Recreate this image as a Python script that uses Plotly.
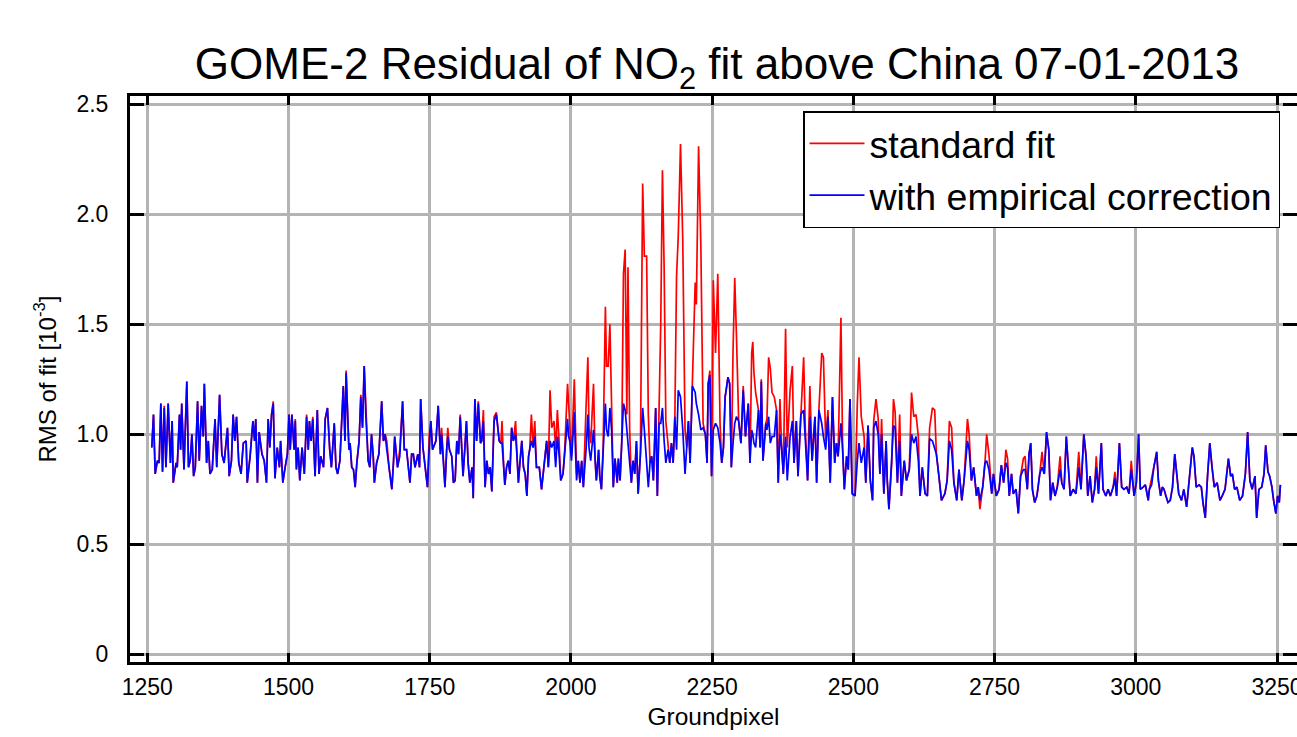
import plotly.graph_objects as go

# Ground pixel positions (turning points)
groundpixel = [
    1258, 1261, 1264, 1268, 1271, 1274, 1277, 1280, 1283, 1287, 1291, 1294, 1296, 1301, 1303, 1307, 1309, 1311, 1315, 1320,
    1323, 1326, 1329, 1332, 1335, 1339, 1342, 1346, 1349, 1351, 1355, 1358, 1361, 1365, 1370, 1373, 1378, 1382, 1386, 1392,
    1395, 1399, 1402, 1405, 1408, 1412, 1416, 1420, 1425, 1427, 1432, 1437, 1440, 1442, 1445, 1448, 1453, 1457, 1461, 1464,
    1467, 1470, 1473, 1476, 1480, 1484, 1486, 1490, 1494, 1498, 1501, 1503, 1506, 1510, 1512, 1514, 1517, 1520, 1524, 1528,
    1532, 1535, 1537, 1540, 1543, 1547, 1551, 1554, 1557, 1562, 1565, 1569, 1573, 1576, 1581, 1584, 1587, 1591, 1597, 1600,
    1602, 1605, 1607, 1609, 1612, 1615, 1618, 1621, 1625, 1628, 1631, 1634, 1637, 1641, 1644, 1647, 1650, 1652, 1656, 1660,
    1665, 1668, 1671, 1674, 1678, 1683, 1686, 1688, 1693, 1697, 1702, 1705, 1709, 1712, 1715, 1718, 1721, 1724, 1729, 1732,
    1734, 1738, 1742, 1746, 1749, 1752, 1755, 1761, 1765, 1769, 1771, 1774, 1777, 1780, 1782, 1785, 1789, 1792, 1795, 1798,
    1801, 1804, 1807, 1809, 1812, 1815, 1818, 1821, 1825, 1827, 1830, 1833, 1836, 1840, 1842, 1845, 1848, 1851, 1854, 1857,
    1860, 1864, 1868, 1873, 1876, 1878, 1881, 1883, 1886, 1889, 1892, 1895, 1898, 1902, 1905, 1907, 1910, 1913, 1916, 1919,
    1922, 1925, 1927, 1930, 1933, 1936, 1939, 1944, 1948, 1951, 1953, 1957, 1960, 1963, 1966, 1970, 1973, 1976, 1979, 1982,
    1986, 1989, 1994, 1996, 1998, 2001, 2006, 2008, 2010, 2013, 2016, 2019, 2022, 2027, 2030, 2032, 2035, 2040, 2043, 2045,
    2049, 2051, 2054, 2057, 2061, 2063, 2066, 2069, 2072, 2075, 2078, 2082, 2084, 2087, 2090, 2093, 2096, 2099, 2101, 2104,
    2107, 2110, 2113, 2116, 2119, 2123, 2127, 2130, 2134, 2137, 2140, 2143, 2146, 2150, 2153, 2156, 2159, 2162, 2165, 2168,
    2172, 2175, 2178, 2181, 2184, 2187, 2190, 2194, 2198, 2202, 2205, 2208, 2211, 2215, 2220, 2222, 2226, 2230, 2234, 2238,
    2241, 2243, 2246, 2249, 2252, 2256, 2260, 2264, 2267, 2270, 2273, 2276, 2278, 2281, 2284, 2287, 2290, 2293, 2297, 2301,
    2305, 2309, 2314, 2317, 2320, 2322, 2324, 2327, 2332, 2335, 2337, 2340, 2345, 2347, 2350, 2353, 2356, 2360, 2364, 2367,
    2370, 2373, 2376, 2380, 2383, 2388, 2392, 2395, 2399, 2402, 2407, 2412, 2415, 2419, 2423, 2427, 2432, 2435, 2439, 2444,
    2447, 2451, 2455, 2459, 2463, 2467, 2470, 2473, 2478, 2481, 2484, 2488, 2491, 2494, 2498, 2503, 2507, 2510, 2514, 2519,
    2522, 2526, 2530, 2534, 2536, 2540, 2544, 2547, 2550, 2554, 2558, 2560, 2563, 2568, 2571, 2574, 2578, 2582, 2585, 2590,
    2594, 2599, 2603, 2607, 2611, 2615, 2618, 2622, 2627, 2631, 2635, 2640, 2644, 2647, 2651, 2656, 2662, 2666, 2670, 2674,
    2678, 2683, 2687, 2692, 2696, 2702, 2705, 2709, 2713, 2718, 2721, 2724, 2729, 2733, 2736, 2740, 2745, 2748, 2753, 2758,
    2762, 2766, 2770, 2773, 2776, 2780, 2783, 2788, 2792, 2796, 2801, 2804, 2808, 2811, 2814, 2817, 2821, 2825, 2830, 2834,
    2838, 2842, 2846, 2849, 2853, 2857, 2861, 2866, 2869, 2873, 2877, 2881, 2884, 2889, 2894, 2899, 2903, 2908, 2912, 2915,
    2919, 2923, 2927, 2930, 2934, 2939, 2942, 2947, 2951, 2955, 2960, 2963, 2966, 2971, 2975, 2979, 2984, 2988, 2992, 2997,
    3001, 3005, 3008, 3013, 3017, 3022, 3024, 3028, 3032, 3037, 3040, 3044, 3047, 3050, 3053, 3057, 3061, 3065, 3069, 3072,
    3076, 3081, 3085, 3090, 3096, 3100, 3103, 3107, 3112, 3116, 3119, 3123, 3127, 3131, 3135, 3139, 3144, 3149, 3153, 3158,
    3164, 3168, 3171, 3175, 3179, 3184, 3189, 3194, 3198, 3202, 3206, 3211, 3214, 3218, 3223, 3227, 3230, 3234, 3237, 3241,
    3244, 3248, 3251, 3254, 3256,
]

# RMS of fit [10^-3], fit with empirical correction (blue)
rms_corrected = [
    0.94, 1.09, 0.82, 0.88, 0.87, 1.14, 0.83, 1.12, 0.85, 1.14, 0.87, 1.06, 0.78, 0.87, 0.85, 1.09, 0.93, 1.14, 0.84, 1.24,
    0.85, 0.88, 1.00, 0.81, 0.85, 1.15, 0.88, 1.13, 0.99, 1.23, 0.87, 0.97, 0.82, 0.84, 1.07, 0.85, 1.18, 0.91, 0.87, 1.03,
    0.81, 0.88, 1.09, 0.97, 1.08, 0.87, 0.82, 0.96, 0.97, 0.78, 0.90, 1.06, 0.97, 1.07, 0.78, 1.01, 0.91, 0.88, 0.78, 1.07,
    0.94, 1.09, 1.14, 0.80, 0.94, 0.85, 0.97, 0.78, 0.85, 0.91, 1.09, 0.93, 1.09, 0.93, 1.06, 0.84, 0.94, 0.79, 0.94, 0.82,
    1.08, 0.93, 1.06, 0.97, 1.07, 0.81, 1.11, 0.82, 0.90, 0.85, 1.07, 1.12, 0.93, 0.85, 1.05, 0.85, 0.82, 0.88, 1.22, 0.97,
    1.28, 1.05, 0.93, 0.96, 0.85, 0.84, 0.76, 0.87, 0.97, 1.17, 1.03, 1.31, 1.08, 0.88, 0.85, 1.00, 0.90, 0.78, 0.87, 0.91,
    1.15, 0.97, 1.00, 0.93, 0.85, 0.75, 0.88, 0.99, 0.85, 0.90, 1.15, 0.93, 0.93, 0.84, 0.78, 0.91, 0.91, 0.85, 0.91, 0.85,
    1.16, 0.94, 0.85, 0.76, 0.93, 1.06, 0.93, 0.97, 1.13, 0.91, 1.00, 0.90, 0.76, 0.93, 0.99, 0.93, 0.90, 0.78, 0.79, 0.97,
    0.91, 1.08, 0.93, 0.81, 0.93, 1.06, 0.87, 0.78, 0.85, 0.71, 1.16, 0.97, 1.14, 0.96, 0.97, 1.06, 0.76, 0.88, 0.82, 0.85,
    0.74, 1.06, 1.09, 0.97, 0.96, 0.96, 0.85, 0.77, 0.85, 0.88, 0.82, 1.03, 0.97, 1.00, 0.88, 0.78, 0.88, 0.97, 0.85, 0.82,
    0.72, 0.90, 0.93, 0.97, 0.94, 0.99, 0.85, 0.85, 0.75, 0.82, 0.87, 0.97, 0.85, 0.97, 0.94, 0.97, 0.85, 0.99, 0.91, 0.79,
    0.82, 0.93, 1.07, 0.99, 0.97, 0.88, 1.10, 0.93, 0.79, 0.88, 0.78, 0.88, 0.76, 0.94, 1.09, 0.94, 0.88, 1.02, 0.87, 0.79,
    0.93, 0.81, 0.75, 0.94, 1.14, 1.02, 0.99, 1.12, 1.02, 0.76, 0.89, 0.78, 0.89, 0.79, 0.96, 1.14, 1.11, 1.02, 0.94, 0.88,
    0.78, 0.88, 0.82, 0.97, 0.73, 0.91, 1.12, 1.02, 0.84, 0.76, 0.87, 0.90, 0.79, 1.12, 0.72, 1.05, 1.05, 1.12, 0.97, 0.87,
    0.93, 0.87, 0.96, 0.87, 1.08, 0.93, 1.20, 1.17, 1.02, 0.82, 0.94, 1.06, 0.87, 1.22, 1.19, 1.14, 1.09, 1.02, 1.03, 1.00,
    0.87, 1.23, 1.27, 0.81, 1.02, 1.05, 1.03, 0.96, 0.87, 0.94, 1.17, 1.22, 1.26, 1.23, 0.85, 0.96, 1.05, 1.08, 1.06, 0.96,
    1.20, 0.99, 1.14, 0.87, 1.02, 1.00, 0.96, 0.94, 1.11, 0.94, 1.24, 0.88, 1.05, 1.02, 1.08, 0.96, 0.99, 0.99, 1.11, 0.78,
    1.00, 0.94, 0.82, 0.99, 0.79, 0.99, 1.06, 0.87, 1.06, 0.81, 1.09, 1.11, 0.96, 0.79, 1.08, 0.88, 1.08, 0.78, 1.11, 1.05,
    0.99, 0.93, 1.08, 0.78, 1.17, 0.87, 0.96, 0.90, 1.05, 0.93, 0.75, 0.90, 0.84, 1.16, 0.73, 0.72, 0.88, 0.96, 0.87, 0.94,
    0.78, 1.04, 0.79, 0.70, 1.03, 1.06, 1.00, 0.82, 1.00, 0.73, 0.97, 0.79, 0.66, 0.87, 1.04, 1.03, 0.78, 0.97, 0.72, 0.88,
    0.79, 0.84, 1.00, 0.96, 0.99, 0.88, 0.72, 0.85, 0.73, 0.72, 0.98, 0.97, 0.93, 0.91, 0.82, 0.70, 0.73, 0.79, 0.97, 0.93,
    0.78, 0.70, 0.84, 0.70, 0.79, 0.97, 0.93, 0.79, 0.85, 0.72, 0.76, 0.70, 0.76, 0.87, 0.88, 0.84, 0.73, 0.82, 0.72, 0.75,
    0.86, 0.78, 0.87, 0.85, 0.72, 0.82, 0.73, 0.75, 0.64, 0.81, 0.84, 0.84, 0.75, 0.91, 0.96, 0.75, 0.69, 0.72, 0.82, 0.85,
    0.82, 1.01, 0.93, 0.70, 0.78, 0.72, 0.76, 0.84, 0.78, 0.75, 0.99, 0.85, 0.72, 0.75, 0.73, 0.85, 0.75, 1.00, 0.90, 0.72,
    0.81, 0.69, 0.75, 0.85, 0.73, 0.96, 0.75, 0.72, 0.75, 0.72, 0.76, 0.80, 0.72, 0.96, 0.76, 0.75, 0.76, 0.73, 0.84, 0.72,
    0.78, 1.00, 0.75, 0.76, 0.77, 0.70, 0.75, 0.77, 0.85, 0.92, 0.79, 0.72, 0.76, 0.75, 0.72, 0.69, 0.70, 0.76, 0.91, 0.82,
    0.73, 0.70, 0.75, 0.67, 0.82, 0.94, 0.90, 0.76, 0.77, 0.76, 0.69, 0.62, 0.81, 0.96, 0.85, 0.76, 0.78, 0.70, 0.72, 0.75,
    0.89, 0.81, 0.82, 0.75, 0.76, 0.70, 0.72, 0.82, 1.01, 0.79, 0.75, 0.81, 0.62, 0.75, 0.76, 0.82, 0.95, 0.83, 0.81, 0.76,
    0.70, 0.64, 0.72, 0.69, 0.77,
]

# RMS of fit [10^-3], standard fit (red)
rms_standard = [
    0.94, 1.09, 0.82, 0.88, 0.87, 1.14, 0.83, 1.13, 0.85, 1.14, 0.87, 1.06, 0.78, 0.87, 0.85, 1.09, 0.93, 1.14, 0.84, 1.24,
    0.85, 0.88, 1.00, 0.81, 0.85, 1.15, 0.88, 1.13, 0.99, 1.23, 0.87, 0.97, 0.82, 0.84, 1.07, 0.85, 1.18, 0.91, 0.87, 1.03,
    0.81, 0.88, 1.09, 0.97, 1.08, 0.87, 0.82, 0.96, 0.97, 0.78, 0.90, 1.06, 0.97, 1.07, 0.78, 1.01, 0.91, 0.88, 0.78, 1.07,
    0.94, 1.09, 1.15, 0.80, 0.94, 0.85, 0.97, 0.78, 0.85, 0.91, 1.09, 0.93, 1.09, 0.93, 1.07, 0.84, 0.94, 0.79, 0.94, 0.82,
    1.09, 0.93, 1.06, 0.97, 1.08, 0.81, 1.11, 0.82, 0.90, 0.85, 1.07, 1.12, 0.93, 0.85, 1.05, 0.85, 0.82, 0.88, 1.22, 0.97,
    1.29, 1.05, 0.93, 0.96, 0.85, 0.84, 0.76, 0.87, 0.97, 1.18, 1.03, 1.31, 1.09, 0.88, 0.85, 1.00, 0.90, 0.78, 0.87, 0.91,
    1.15, 0.97, 1.00, 0.97, 0.85, 0.75, 0.88, 0.99, 0.85, 0.93, 1.15, 0.93, 0.93, 0.84, 0.78, 0.91, 0.91, 0.85, 0.91, 0.85,
    1.16, 0.94, 0.85, 0.76, 0.99, 1.06, 0.93, 0.97, 1.13, 0.91, 1.03, 0.90, 0.76, 0.93, 1.03, 0.93, 0.90, 0.78, 0.79, 0.97,
    0.91, 1.09, 0.93, 0.81, 0.93, 1.06, 0.87, 0.78, 0.85, 0.71, 1.16, 0.97, 1.15, 0.96, 0.97, 1.11, 0.76, 0.88, 0.82, 0.85,
    0.74, 1.08, 1.10, 0.97, 0.96, 1.06, 0.85, 0.77, 0.85, 0.88, 0.82, 1.03, 0.97, 1.06, 0.88, 0.78, 0.88, 0.97, 0.85, 0.82,
    0.72, 0.90, 0.93, 1.09, 0.94, 1.06, 0.85, 0.85, 0.75, 0.82, 0.87, 0.97, 0.85, 1.20, 1.03, 1.06, 0.93, 1.11, 0.97, 0.79,
    0.82, 0.93, 1.23, 1.12, 1.00, 0.90, 1.25, 1.05, 0.82, 0.88, 0.78, 0.88, 0.76, 1.14, 1.35, 1.03, 0.96, 1.23, 0.87, 0.79,
    0.93, 0.81, 0.75, 0.94, 1.58, 1.31, 1.31, 1.50, 1.12, 0.76, 0.89, 0.78, 0.89, 0.79, 0.97, 1.73, 1.84, 1.09, 1.76, 1.02,
    0.78, 0.88, 0.82, 0.97, 0.73, 0.91, 2.14, 1.81, 1.81, 1.09, 0.87, 0.90, 0.79, 1.12, 0.72, 1.05, 1.50, 2.20, 1.76, 1.06,
    0.93, 0.87, 0.96, 0.87, 1.08, 1.72, 1.90, 2.32, 1.88, 1.02, 0.94, 1.06, 0.87, 1.22, 1.69, 1.59, 2.31, 1.86, 1.05, 1.00,
    0.87, 1.23, 1.29, 0.81, 1.70, 1.37, 1.73, 1.05, 0.87, 0.94, 1.17, 1.22, 1.26, 1.23, 0.85, 1.38, 1.71, 1.45, 1.06, 0.96,
    1.22, 0.99, 1.14, 0.87, 1.37, 1.42, 1.28, 1.19, 1.11, 0.94, 1.25, 0.88, 1.05, 1.07, 1.35, 1.30, 1.19, 1.17, 1.11, 0.78,
    1.16, 0.94, 0.82, 1.48, 0.94, 1.20, 1.31, 0.87, 1.06, 0.81, 1.09, 1.35, 1.02, 0.79, 1.22, 0.88, 1.08, 0.78, 1.11, 1.37,
    1.35, 0.97, 1.11, 0.78, 1.17, 0.87, 0.96, 0.90, 1.53, 0.94, 0.75, 0.90, 0.84, 1.16, 0.73, 0.72, 1.14, 1.35, 1.08, 0.99,
    0.78, 1.04, 0.79, 0.70, 1.06, 1.16, 1.07, 0.82, 1.07, 0.73, 0.97, 0.79, 0.66, 0.87, 1.16, 1.10, 0.78, 1.09, 0.72, 0.88,
    0.79, 0.84, 1.19, 1.08, 1.09, 0.99, 0.72, 0.85, 0.73, 0.72, 1.03, 1.12, 1.11, 0.91, 0.82, 0.70, 0.73, 0.79, 1.06, 1.03,
    0.78, 0.70, 0.84, 0.70, 0.79, 1.07, 1.00, 0.79, 0.85, 0.72, 0.76, 0.66, 0.76, 0.87, 1.00, 0.91, 0.73, 0.82, 0.72, 0.75,
    0.86, 0.78, 0.93, 0.89, 0.72, 0.82, 0.73, 0.75, 0.64, 0.81, 0.89, 0.90, 0.75, 0.91, 0.96, 0.75, 0.69, 0.72, 0.82, 0.92,
    0.82, 1.01, 0.93, 0.70, 0.78, 0.72, 0.76, 0.90, 0.78, 0.75, 0.99, 0.85, 0.72, 0.75, 0.73, 0.92, 0.75, 1.00, 0.90, 0.72,
    0.81, 0.69, 0.75, 0.90, 0.73, 0.96, 0.75, 0.72, 0.75, 0.72, 0.76, 0.83, 0.72, 0.96, 0.76, 0.75, 0.76, 0.73, 0.88, 0.72,
    0.78, 1.00, 0.75, 0.76, 0.77, 0.70, 0.75, 0.80, 0.85, 0.92, 0.79, 0.72, 0.76, 0.75, 0.72, 0.69, 0.70, 0.76, 0.91, 0.82,
    0.73, 0.70, 0.75, 0.67, 0.82, 0.94, 0.90, 0.76, 0.77, 0.76, 0.69, 0.62, 0.81, 0.96, 0.85, 0.76, 0.78, 0.70, 0.72, 0.75,
    0.89, 0.81, 0.82, 0.75, 0.76, 0.70, 0.72, 0.82, 1.01, 0.79, 0.75, 0.81, 0.62, 0.75, 0.76, 0.82, 0.95, 0.83, 0.81, 0.76,
    0.70, 0.64, 0.72, 0.69, 0.77,
]

x_tick_vals = [1250, 1500, 1750, 2000, 2250, 2500, 2750, 3000, 3250]
y_tick_vals = [0, 0.5, 1.0, 1.5, 2.0, 2.5]
y_tick_text = ["0", "0.5", "1.0", "1.5", "2.0", "2.5"]

FONT = "Liberation Sans, Arial, Helvetica, sans-serif"

fig = go.Figure()
fig.add_trace(go.Scatter(
    x=groundpixel, y=rms_standard, mode="lines", name="standard fit",
    line=dict(color="#ff0000", width=1.7), legendgroup="a",
))
fig.add_trace(go.Scatter(
    x=groundpixel, y=rms_corrected, mode="lines", name="with empirical correction",
    line=dict(color="#0000ff", width=1.7), legendgroup="b",
))

axis_common = dict(
    showline=True, linecolor="black", linewidth=3, mirror="ticks",
    ticks="inside", tickcolor="black", tickwidth=3,
    showgrid=True, gridcolor="#b4b4b4", gridwidth=2.5, zeroline=False,
    tickfont=dict(family=FONT, size=23, color="black"),
    automargin=False,
)

fig.update_layout(
    width=1297, height=737,
    margin=dict(l=130, r=0, t=96, b=75),
    paper_bgcolor="white", plot_bgcolor="white",
    font=dict(family=FONT, color="black"),
    title=dict(
        text="GOME-2 Residual of NO<sub>2</sub> fit above China 07-01-2013",
        font=dict(family=FONT, size=44, color="black"),
        x=717 / 1297, xref="container", xanchor="center",
        y=1 - 64 / 737, yref="container", yanchor="middle",
    ),
    xaxis=dict(
        range=[1219.4, 3285.4], tickvals=x_tick_vals, ticklen=9,
        ticklabelstandoff=2, ticklabeloverflow="allow",
        title=dict(text="Groundpixel", font=dict(family=FONT, size=24.5), standoff=10),
        **axis_common,
    ),
    yaxis=dict(
        range=[-0.035, 2.538], tickvals=y_tick_vals, ticktext=y_tick_text, ticklen=14,
        ticklabelstandoff=14,
        title=dict(text="RMS of fit [10<sup>-3</sup>]", font=dict(family=FONT, size=24), standoff=14),
        **axis_common,
    ),
    legend=dict(
        x=(803 - 130) / 1167, y=1 - (111 - 96) / 566, xanchor="left", yanchor="top",
        bgcolor="white", bordercolor="black", borderwidth=1.5,
        font=dict(family=FONT, size=37.5, color="black"),
        traceorder="normal", tracegroupgap=2, itemwidth=55,
    ),
    showlegend=True,
)

fig.write_html("out.html")
